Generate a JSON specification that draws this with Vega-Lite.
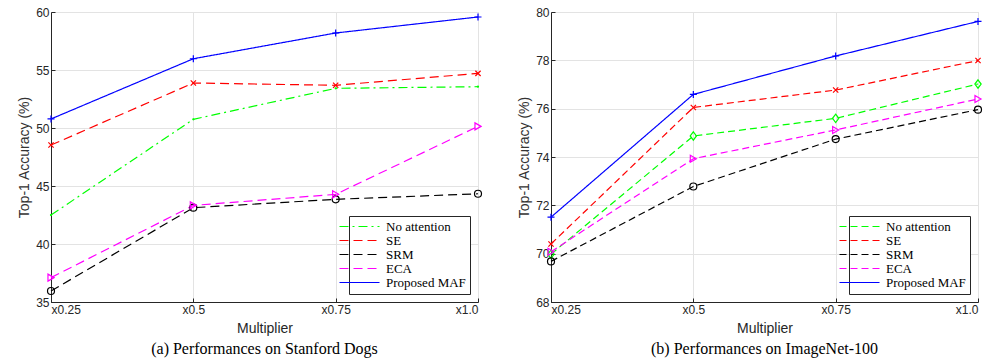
{
  "$schema": "https://vega.github.io/schema/vega-lite/v6.json",
  "background": "white",
  "padding": {"left": 17, "top": 5, "right": 0, "bottom": 0},
  "spacing": 32,
  "config": {
    "view": {"stroke": "#d4d4d4", "strokeWidth": 1},
    "axis": {
      "labelFont": "Liberation Sans", "labelFontSize": 12, "labelColor": "#262626",
      "titleFont": "Liberation Sans", "titleFontWeight": "normal", "titleColor": "#333333",
      "gridColor": "#e3e3e3", "gridWidth": 1, "domainColor": "#262626", "domainWidth": 1,
      "tickColor": "#262626", "tickSize": -4, "labelPadding": 6
    },
    "title": {"font": "Liberation Serif", "fontSize": 16, "fontWeight": "normal", "color": "#000000", "orient": "bottom", "offset": 6},
    "legend": {
      "orient": "bottom-right", "offset": 8, "padding": 4, "fillColor": "white", "strokeColor": "#262626",
      "labelFont": "Liberation Serif", "labelFontSize": 13, "labelColor": "#000000",
      "symbolSize": 100, "rowPadding": 0, "symbolOffset": 0, "labelOffset": 20, "symbolStrokeWidth": 1.2, "title": null,
      "symbolType": "M-4,0H4", "symbolFillColor": "transparent"
    }
  },
  "resolve": {"scale": {"color": "independent", "shape": "independent", "strokeDash": "independent", "y": "independent"}, "legend": {"color": "independent"}},
  "hconcat": [
    {
      "width": 427, "height": 290,
      "title": "(a) Performances on Stanford Dogs",
      "data": {"values": [
        {"method": "No attention", "m": 0.25, "acc": 42.5},
        {"method": "No attention", "m": 0.5, "acc": 50.75},
        {"method": "No attention", "m": 0.75, "acc": 53.42},
        {"method": "No attention", "m": 1.0, "acc": 53.56},
        {"method": "SE", "m": 0.25, "acc": 48.53},
        {"method": "SE", "m": 0.5, "acc": 53.88},
        {"method": "SE", "m": 0.75, "acc": 53.68},
        {"method": "SE", "m": 1.0, "acc": 54.71},
        {"method": "SRM", "m": 0.25, "acc": 35.95},
        {"method": "SRM", "m": 0.5, "acc": 43.13},
        {"method": "SRM", "m": 0.75, "acc": 43.85},
        {"method": "SRM", "m": 1.0, "acc": 44.33},
        {"method": "ECA", "m": 0.25, "acc": 37.1},
        {"method": "ECA", "m": 0.5, "acc": 43.33},
        {"method": "ECA", "m": 0.75, "acc": 44.28},
        {"method": "ECA", "m": 1.0, "acc": 50.14},
        {"method": "Proposed MAF", "m": 0.25, "acc": 50.78},
        {"method": "Proposed MAF", "m": 0.5, "acc": 55.97},
        {"method": "Proposed MAF", "m": 0.75, "acc": 58.19},
        {"method": "Proposed MAF", "m": 1.0, "acc": 59.57}
      ]},
      "encoding": {
        "x": {"field": "m", "type": "quantitative", "scale": {"domain": [0.25, 1], "nice": false, "zero": false},
              "axis": {"values": [0.25, 0.5, 0.75, 1], "labelExpr": "datum.value == 1 ? 'x1.0' : 'x' + format(datum.value, '.2~f')", "title": "Multiplier", "titleFontSize": 14, "titleColor": "#262626", "titlePadding": 6}},
        "y": {"field": "acc", "type": "quantitative", "scale": {"domain": [35, 60], "nice": false, "zero": false},
              "axis": {"values": [35, 40, 45, 50, 55, 60], "title": "Top-1 Accuracy (%)", "titleFontSize": 14, "titlePadding": 4}},
        "color": {"field": "method", "type": "nominal",
                  "scale": {"domain": ["No attention", "SE", "SRM", "ECA", "Proposed MAF"], "range": ["#00ff00", "#ff0000", "#000000", "#ff00ff", "#0000ff"]},
                  "legend": {"symbolType": "M-4,0H4"}}
      },
      "layer": [
        {
          "mark": {"type": "line", "strokeWidth": 1.2},
          "encoding": {
            "strokeDash": {"field": "method", "type": "nominal", "legend": null,
                           "scale": {"domain": ["No attention", "SE", "SRM", "ECA", "Proposed MAF"], "range": [[9, 4, 2, 4], [9, 5], [9, 5], [9, 5], [1, 0]]}}
          }
        },
        {
          "mark": {"type": "point", "filled": false, "strokeWidth": 1.2, "size": 49, "opacity": 1},
          "encoding": {
            "shape": {"field": "method", "type": "nominal", "legend": null,
                      "scale": {"domain": ["Proposed MAF", "ECA", "SRM", "SE", "No attention"],
                                "range": ["M0,-1V1M-1,0H1", "triangle-right", "circle", "M-0.75,-0.75L0.75,0.75M-0.75,0.75L0.75,-0.75", "M-0.15,0A0.15,0.15 0 1,1 0.15,0A0.15,0.15 0 1,1 -0.15,0"]}}
          }
        }
      ]
    },
    {
      "width": 427, "height": 290,
      "title": "(b) Performances on ImageNet-100",
      "data": {"values": [
        {"method": "No attention", "m": 0.25, "acc": 69.98},
        {"method": "No attention", "m": 0.5, "acc": 74.87},
        {"method": "No attention", "m": 0.75, "acc": 75.6},
        {"method": "No attention", "m": 1.0, "acc": 77.02},
        {"method": "SE", "m": 0.25, "acc": 70.4},
        {"method": "SE", "m": 0.5, "acc": 76.05},
        {"method": "SE", "m": 0.75, "acc": 76.77},
        {"method": "SE", "m": 1.0, "acc": 77.99},
        {"method": "SRM", "m": 0.25, "acc": 69.68},
        {"method": "SRM", "m": 0.5, "acc": 72.78},
        {"method": "SRM", "m": 0.75, "acc": 74.74},
        {"method": "SRM", "m": 1.0, "acc": 75.96},
        {"method": "ECA", "m": 0.25, "acc": 70.08},
        {"method": "ECA", "m": 0.5, "acc": 73.93},
        {"method": "ECA", "m": 0.75, "acc": 75.12},
        {"method": "ECA", "m": 1.0, "acc": 76.4},
        {"method": "Proposed MAF", "m": 0.25, "acc": 71.51},
        {"method": "Proposed MAF", "m": 0.5, "acc": 76.59},
        {"method": "Proposed MAF", "m": 0.75, "acc": 78.18},
        {"method": "Proposed MAF", "m": 1.0, "acc": 79.61}
      ]},
      "encoding": {
        "x": {"field": "m", "type": "quantitative", "scale": {"domain": [0.25, 1], "nice": false, "zero": false},
              "axis": {"values": [0.25, 0.5, 0.75, 1], "labelExpr": "datum.value == 1 ? 'x1.0' : 'x' + format(datum.value, '.2~f')", "title": "Multiplier", "titleFontSize": 14, "titleColor": "#262626", "titlePadding": 6}},
        "y": {"field": "acc", "type": "quantitative", "scale": {"domain": [68, 80], "nice": false, "zero": false},
              "axis": {"values": [68, 70, 72, 74, 76, 78, 80], "title": "Top-1 Accuracy (%)", "titleFontSize": 14, "titlePadding": 4}},
        "color": {"field": "method", "type": "nominal",
                  "scale": {"domain": ["No attention", "SE", "SRM", "ECA", "Proposed MAF"], "range": ["#00ff00", "#ff0000", "#000000", "#ff00ff", "#0000ff"]},
                  "legend": {"symbolType": "M-4,0H4"}}
      },
      "layer": [
        {
          "mark": {"type": "line", "strokeWidth": 1.2},
          "encoding": {
            "strokeDash": {"field": "method", "type": "nominal", "legend": null,
                           "scale": {"domain": ["No attention", "SE", "SRM", "ECA", "Proposed MAF"], "range": [[7, 4], [7, 4], [7, 4], [7, 4], [1, 0]]}}
          }
        },
        {
          "mark": {"type": "point", "filled": false, "strokeWidth": 1.2, "size": 49, "opacity": 1},
          "encoding": {
            "shape": {"field": "method", "type": "nominal", "legend": null,
                      "scale": {"domain": ["Proposed MAF", "ECA", "SRM", "SE", "No attention"],
                                "range": ["M0,-1V1M-1,0H1", "triangle-right", "circle", "M-0.75,-0.75L0.75,0.75M-0.75,0.75L0.75,-0.75", "M0,-1.2L0.9,0L0,1.2L-0.9,0Z"]}}
          }
        }
      ]
    }
  ]
}
